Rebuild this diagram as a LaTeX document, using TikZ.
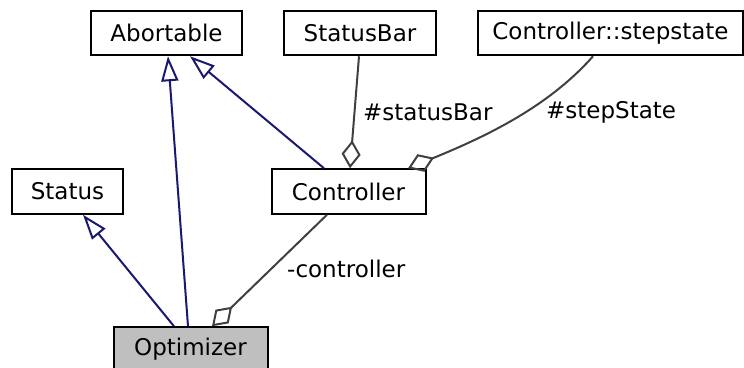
\documentclass[tikz,border=0pt]{standalone}
\usepackage{fontspec}
\setmainfont{DejaVu Sans}
\usepackage{xcolor}
\usetikzlibrary{arrows.meta}

\definecolor{inhblue}{HTML}{191970}
\definecolor{usegray}{HTML}{404040}

\begin{document}
\begin{tikzpicture}[x=1pt,y=-1pt,
  cls/.style={draw,line width=2pt,minimum height=44.5pt,inner sep=0pt,
    font=\fontsize{23}{27}\selectfont},
  inherit/.style={draw=inhblue,line width=2pt,
    -{Triangle[open,length=25pt,width=17pt]}},
  member/.style={draw=usegray,line width=2pt,
    -{Diamond[open,length=28pt,width=19pt]}},
  lbl/.style={anchor=west,inner sep=0pt,font=\fontsize{23}{27}\selectfont}]
% Frame
\useasboundingbox (0,0) rectangle (744,367);

% Classes
\node[cls,minimum width=151pt] (abortable) at (166.5,33) {Abortable};
\node[cls,minimum width=152pt] (statusbar) at (360,33) {StatusBar};
\node[cls,minimum width=265pt] (stepstate) at (610.5,33) {Controller::stepstate};
\node[cls,minimum width=111pt] (status) at (67.5,191.5) {Status};
\node[cls,minimum width=154pt] (controller) at (348.5,191.5) {Controller};
\node[cls,minimum width=154pt,fill=gray!50] (optimizer) at (190.5,349.5) {Optimizer};

% Inheritance
\draw[inherit] ([xshift=-2.5pt]optimizer.north) -- ([xshift=1.5pt]abortable.south);
\draw[inherit] ([xshift=-16.5pt]optimizer.north) -- ([xshift=15.5pt]status.south);
\draw[inherit] ([xshift=-24.5pt]controller.north) -- ([xshift=23.5pt]abortable.south);

% Members
\draw[member] ([xshift=-1pt]statusbar.south) -- ([xshift=1.5pt]controller.north);
\draw[member] ([xshift=-17.5pt]stepstate.south) .. controls (550,105) and (490,135) .. ([xshift=59.5pt]controller.north);
\draw[member] ([xshift=-21.5pt]controller.south) -- ([xshift=21.5pt]optimizer.north);

% Member names
\node[lbl] (lblstatusbar) at (363,112) {\#statusBar};
\node[lbl] (lblstepstate) at (546,112) {\#stepState};
\node[lbl] (lblcontroller) at (287,269) {-controller};

\end{tikzpicture}
\end{document}
